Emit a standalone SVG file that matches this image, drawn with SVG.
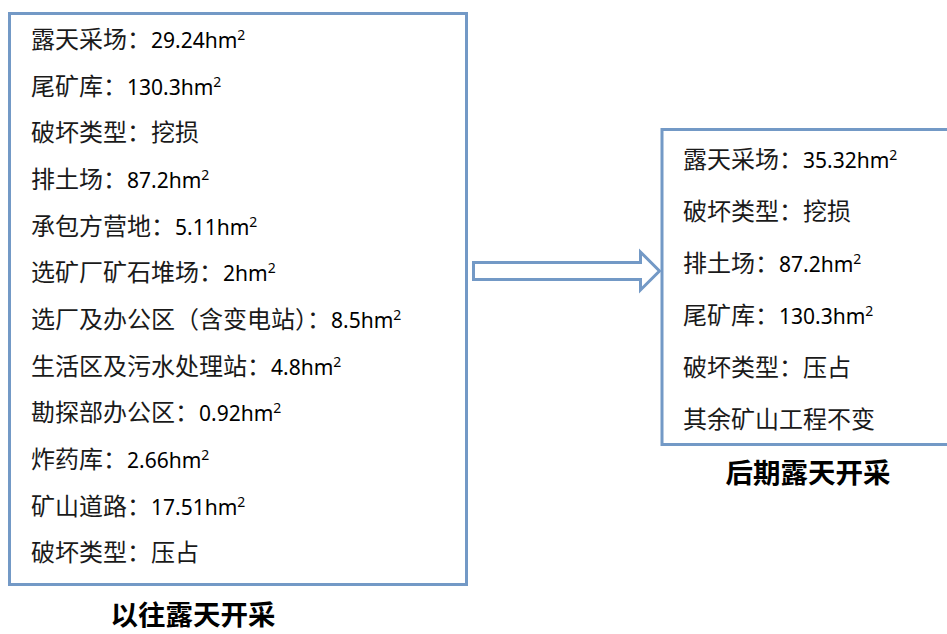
<svg xmlns="http://www.w3.org/2000/svg" width="947" height="634" viewBox="0 0 947 634">
<style>
.box{fill:#fff;stroke:#7399c6;stroke-width:3}
.t{font-family:"Noto Sans CJK SC","Noto Sans",sans-serif;font-size:24px;fill:#1a1a1a}
.n{font-family:"Noto Sans","Noto Sans CJK SC",sans-serif;font-size:21px;fill:#000}
.s{font-family:"Noto Sans",sans-serif;font-size:14px;fill:#000}
.h{font-family:"Noto Sans CJK SC",sans-serif;font-size:27.5px;font-weight:bold;fill:#000;text-anchor:middle}
</style>
<rect width="947" height="634" fill="#fff"/>
<g id="past">
<rect class="box" x="9.5" y="13.5" width="457" height="571"/>
<text class="t" x="31" y="48">露天采场：<tspan class="n">29.24hm</tspan><tspan class="s" dy="-8">2</tspan></text>
<text class="t" x="31" y="95">尾矿库：<tspan class="n">130.3hm</tspan><tspan class="s" dy="-8">2</tspan></text>
<text class="t" x="31" y="141">破坏类型：挖损</text>
<text class="t" x="31" y="188">排土场：<tspan class="n">87.2hm</tspan><tspan class="s" dy="-8">2</tspan></text>
<text class="t" x="31" y="235">承包方营地：<tspan class="n">5.11hm</tspan><tspan class="s" dy="-8">2</tspan></text>
<text class="t" x="31" y="281">选矿厂矿石堆场：<tspan class="n">2hm</tspan><tspan class="s" dy="-8">2</tspan></text>
<text class="t" x="31" y="328">选厂及办公区（含变电站）：<tspan class="n">8.5hm</tspan><tspan class="s" dy="-8">2</tspan></text>
<text class="t" x="31" y="375">生活区及污水处理站：<tspan class="n">4.8hm</tspan><tspan class="s" dy="-8">2</tspan></text>
<text class="t" x="31" y="421">勘探部办公区：<tspan class="n">0.92hm</tspan><tspan class="s" dy="-8">2</tspan></text>
<text class="t" x="31" y="468">炸药库：<tspan class="n">2.66hm</tspan><tspan class="s" dy="-8">2</tspan></text>
<text class="t" x="31" y="515">矿山道路：<tspan class="n">17.51hm</tspan><tspan class="s" dy="-8">2</tspan></text>
<text class="t" x="31" y="561">破坏类型：压占</text>
</g>
<g id="later">
<rect class="box" x="662" y="129.5" width="300" height="315"/>
<text class="t" x="683" y="168">露天采场：<tspan class="n">35.32hm</tspan><tspan class="s" dy="-8">2</tspan></text>
<text class="t" x="683" y="220">破坏类型：挖损</text>
<text class="t" x="683" y="272">排土场：<tspan class="n">87.2hm</tspan><tspan class="s" dy="-8">2</tspan></text>
<text class="t" x="683" y="324">尾矿库：<tspan class="n">130.3hm</tspan><tspan class="s" dy="-8">2</tspan></text>
<text class="t" x="683" y="376">破坏类型：压占</text>
<text class="t" x="683" y="428">其余矿山工程不变</text>
</g>
<g id="connectors">
<path class="box" d="M473.5,262.5 L640.5,262.5 L640.5,252 L659.5,271 L640.5,290 L640.5,279.5 L473.5,279.5 Z"/>
</g>
<g id="labels">
<text class="h" x="193" y="625">以往露天开采</text>
<text class="h" x="808" y="483">后期露天开采</text>
</g>
</svg>
